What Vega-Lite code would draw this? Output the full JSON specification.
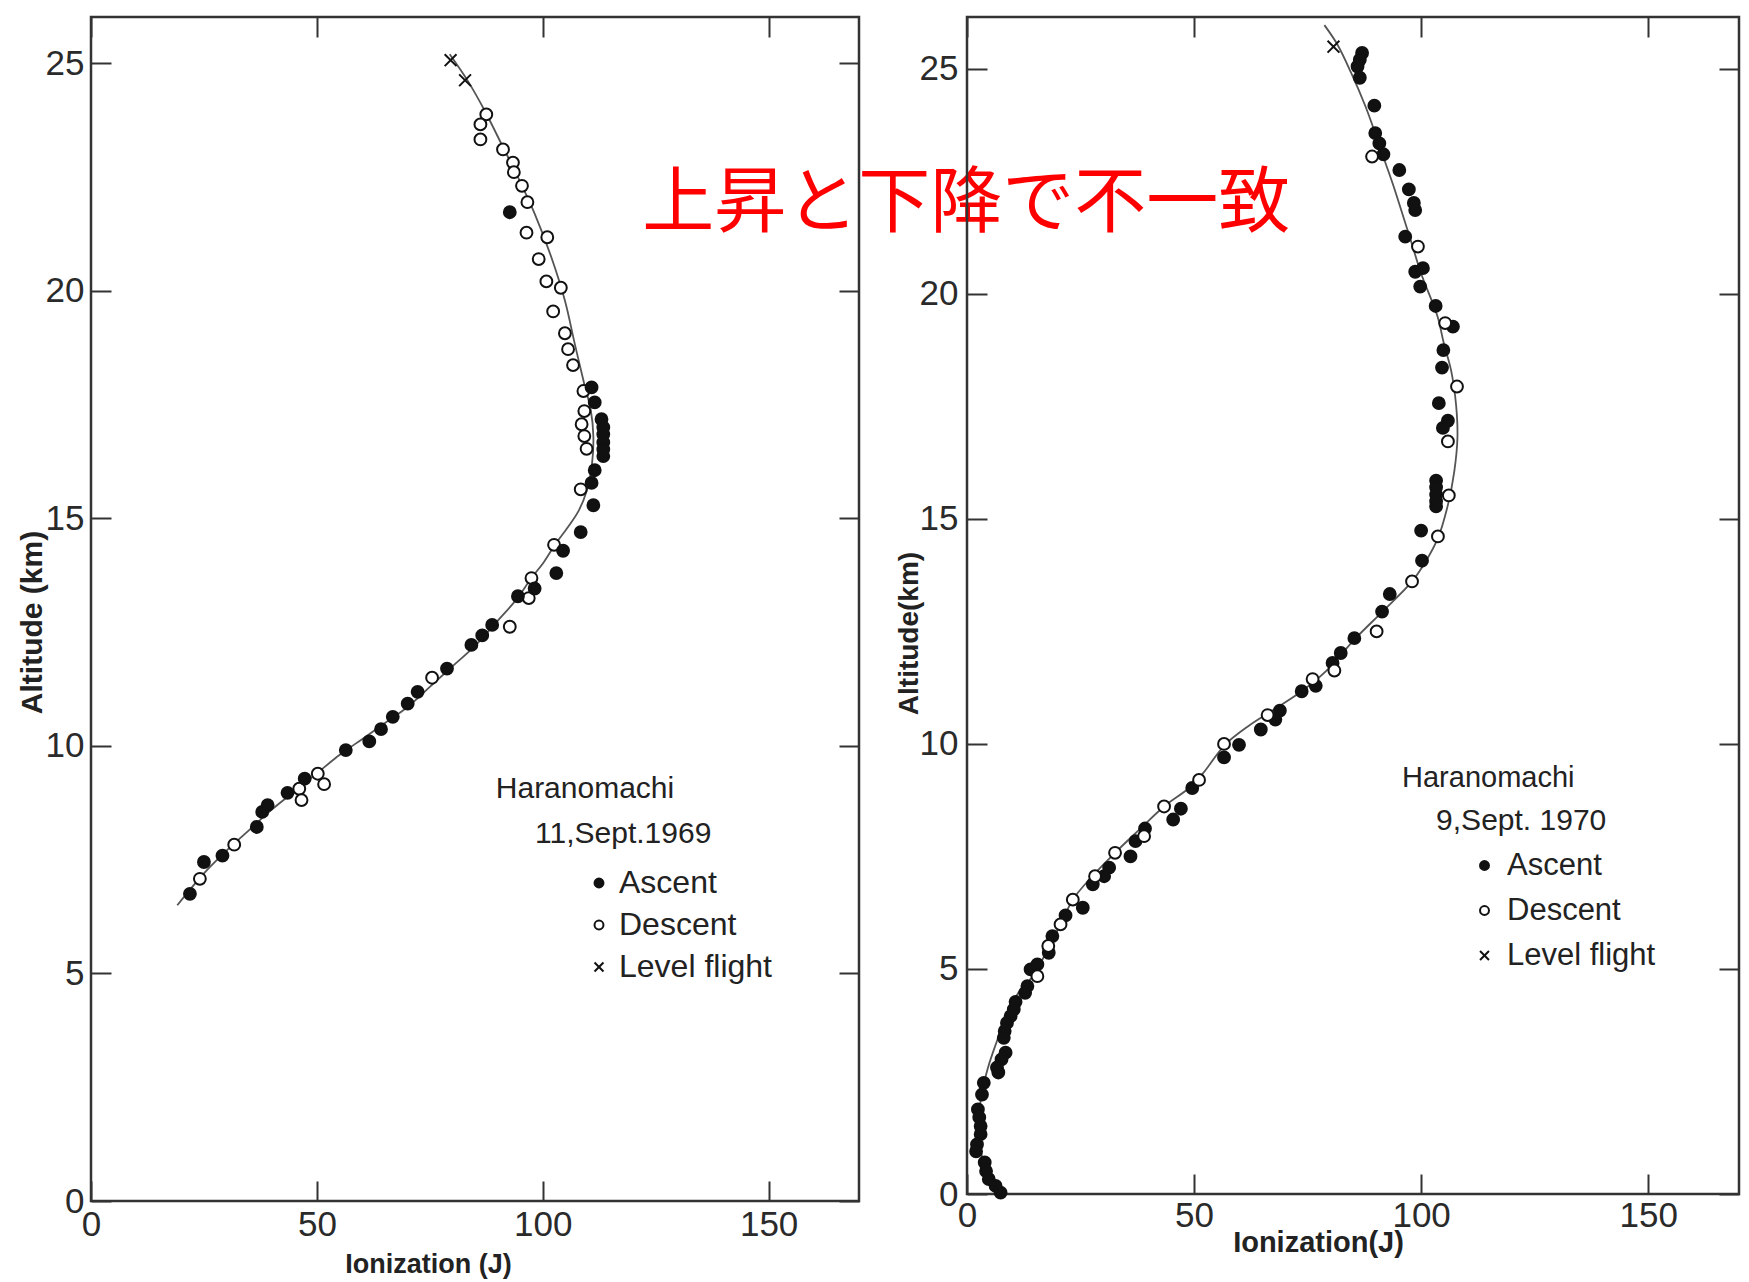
{
  "$schema": "https://vega.github.io/schema/vega-lite/v6.json",
  "background": "white",
  "padding": {"left": 15, "top": 14, "right": 5, "bottom": 2},
  "bounds": "flush",
  "spacing": 108,
  "config": {
    "font": "Liberation Sans",
    "view": {"stroke": "#333", "strokeWidth": 2.5},
    "axis": {"domain": false, "grid": false, "tickColor": "#333", "tickWidth": 2, "tickSize": -20, "labelFont": "Liberation Sans", "labelFontSize": 35, "labelColor": "#2a2a2a", "labelOverlap": false, "labelFlush": false, "titleFont": "Liberation Sans", "titleColor": "#222", "titleFontWeight": "bold"}
  },
  "datasets": {
    "p1": [
      {"type": "Level flight", "ionization": 79.6, "altitude": 25.07},
      {"type": "Level flight", "ionization": 82.8, "altitude": 24.63},
      {"type": "Descent", "ionization": 87.5, "altitude": 23.88},
      {"type": "Descent", "ionization": 86.2, "altitude": 23.66},
      {"type": "Descent", "ionization": 86.2, "altitude": 23.33},
      {"type": "Descent", "ionization": 91.2, "altitude": 23.11},
      {"type": "Descent", "ionization": 93.4, "altitude": 22.82},
      {"type": "Descent", "ionization": 93.6, "altitude": 22.61},
      {"type": "Descent", "ionization": 95.4, "altitude": 22.31},
      {"type": "Descent", "ionization": 96.6, "altitude": 21.95},
      {"type": "Descent", "ionization": 96.4, "altitude": 21.28},
      {"type": "Descent", "ionization": 101.0, "altitude": 21.18},
      {"type": "Descent", "ionization": 99.1, "altitude": 20.7},
      {"type": "Descent", "ionization": 100.8, "altitude": 20.21},
      {"type": "Descent", "ionization": 104.0, "altitude": 20.07},
      {"type": "Descent", "ionization": 102.3, "altitude": 19.55},
      {"type": "Descent", "ionization": 104.9, "altitude": 19.07},
      {"type": "Descent", "ionization": 105.6, "altitude": 18.72},
      {"type": "Descent", "ionization": 106.7, "altitude": 18.37},
      {"type": "Descent", "ionization": 109.0, "altitude": 17.8},
      {"type": "Descent", "ionization": 109.2, "altitude": 17.36},
      {"type": "Descent", "ionization": 108.6, "altitude": 17.07},
      {"type": "Descent", "ionization": 109.2, "altitude": 16.81},
      {"type": "Descent", "ionization": 109.7, "altitude": 16.53},
      {"type": "Descent", "ionization": 108.4, "altitude": 15.64},
      {"type": "Descent", "ionization": 102.5, "altitude": 14.42},
      {"type": "Descent", "ionization": 97.5, "altitude": 13.69},
      {"type": "Descent", "ionization": 96.9, "altitude": 13.25},
      {"type": "Descent", "ionization": 92.7, "altitude": 12.62},
      {"type": "Descent", "ionization": 75.5, "altitude": 11.5},
      {"type": "Descent", "ionization": 50.2, "altitude": 9.39},
      {"type": "Descent", "ionization": 51.6, "altitude": 9.16},
      {"type": "Descent", "ionization": 46.1, "altitude": 9.06},
      {"type": "Descent", "ionization": 46.6, "altitude": 8.81},
      {"type": "Descent", "ionization": 31.7, "altitude": 7.83},
      {"type": "Descent", "ionization": 24.1, "altitude": 7.08},
      {"type": "Ascent", "ionization": 92.7, "altitude": 21.73},
      {"type": "Ascent", "ionization": 110.8, "altitude": 17.88},
      {"type": "Ascent", "ionization": 111.5, "altitude": 17.55},
      {"type": "Ascent", "ionization": 113.0, "altitude": 17.18},
      {"type": "Ascent", "ionization": 113.4, "altitude": 17.0},
      {"type": "Ascent", "ionization": 113.4, "altitude": 16.85},
      {"type": "Ascent", "ionization": 113.4, "altitude": 16.67},
      {"type": "Ascent", "ionization": 113.4, "altitude": 16.52},
      {"type": "Ascent", "ionization": 113.4, "altitude": 16.37},
      {"type": "Ascent", "ionization": 111.5, "altitude": 16.06},
      {"type": "Ascent", "ionization": 110.8, "altitude": 15.78},
      {"type": "Ascent", "ionization": 111.2, "altitude": 15.29},
      {"type": "Ascent", "ionization": 108.4, "altitude": 14.7},
      {"type": "Ascent", "ionization": 104.5, "altitude": 14.29},
      {"type": "Ascent", "ionization": 103.0, "altitude": 13.8},
      {"type": "Ascent", "ionization": 98.2, "altitude": 13.46},
      {"type": "Ascent", "ionization": 94.5, "altitude": 13.29},
      {"type": "Ascent", "ionization": 88.8, "altitude": 12.66},
      {"type": "Ascent", "ionization": 86.6, "altitude": 12.43},
      {"type": "Ascent", "ionization": 84.2, "altitude": 12.22},
      {"type": "Ascent", "ionization": 78.8, "altitude": 11.7},
      {"type": "Ascent", "ionization": 72.3, "altitude": 11.19},
      {"type": "Ascent", "ionization": 70.1, "altitude": 10.93},
      {"type": "Ascent", "ionization": 66.8, "altitude": 10.64},
      {"type": "Ascent", "ionization": 64.2, "altitude": 10.37},
      {"type": "Ascent", "ionization": 61.6, "altitude": 10.1},
      {"type": "Ascent", "ionization": 56.4, "altitude": 9.91},
      {"type": "Ascent", "ionization": 47.3, "altitude": 9.28},
      {"type": "Ascent", "ionization": 43.5, "altitude": 8.97},
      {"type": "Ascent", "ionization": 39.1, "altitude": 8.7},
      {"type": "Ascent", "ionization": 37.9, "altitude": 8.55},
      {"type": "Ascent", "ionization": 36.7, "altitude": 8.22},
      {"type": "Ascent", "ionization": 29.1, "altitude": 7.59},
      {"type": "Ascent", "ionization": 25.0, "altitude": 7.45},
      {"type": "Ascent", "ionization": 21.9, "altitude": 6.75}
    ],
    "c1": [
      {"ionization": 19.1, "altitude": 6.5}, {"ionization": 25, "altitude": 7.2}, {"ionization": 30, "altitude": 7.7},
      {"ionization": 35, "altitude": 8.15}, {"ionization": 40, "altitude": 8.6}, {"ionization": 45, "altitude": 9.0},
      {"ionization": 50, "altitude": 9.4}, {"ionization": 55, "altitude": 9.8}, {"ionization": 60, "altitude": 10.15},
      {"ionization": 65, "altitude": 10.5}, {"ionization": 70, "altitude": 10.85}, {"ionization": 75, "altitude": 11.3},
      {"ionization": 80, "altitude": 11.75}, {"ionization": 85, "altitude": 12.2}, {"ionization": 90, "altitude": 12.75},
      {"ionization": 94, "altitude": 13.2}, {"ionization": 97.5, "altitude": 13.69}, {"ionization": 100.3, "altitude": 14.05},
      {"ionization": 102.7, "altitude": 14.42}, {"ionization": 105.5, "altitude": 14.8}, {"ionization": 107.9, "altitude": 15.16},
      {"ionization": 109.7, "altitude": 15.6}, {"ionization": 110.9, "altitude": 16.2}, {"ionization": 111.2, "altitude": 16.8},
      {"ionization": 110.6, "altitude": 17.4}, {"ionization": 109.2, "altitude": 17.95}, {"ionization": 107.1, "altitude": 18.83},
      {"ionization": 104.9, "altitude": 19.79}, {"ionization": 101.9, "altitude": 20.74}, {"ionization": 98.2, "altitude": 21.7},
      {"ionization": 94.5, "altitude": 22.5}, {"ionization": 90.8, "altitude": 23.24}, {"ionization": 87.1, "altitude": 23.97},
      {"ionization": 83.5, "altitude": 24.6}, {"ionization": 79.4, "altitude": 25.2}
    ],
    "p2": [
      {"type": "Level flight", "ionization": 80.7, "altitude": 25.49},
      {"type": "Ascent", "ionization": 87.0, "altitude": 25.35},
      {"type": "Ascent", "ionization": 86.5, "altitude": 25.2},
      {"type": "Ascent", "ionization": 86.0, "altitude": 25.05},
      {"type": "Ascent", "ionization": 86.5, "altitude": 24.8},
      {"type": "Ascent", "ionization": 89.7, "altitude": 24.18},
      {"type": "Ascent", "ionization": 89.9, "altitude": 23.57},
      {"type": "Ascent", "ionization": 90.8, "altitude": 23.34},
      {"type": "Ascent", "ionization": 91.7, "altitude": 23.1},
      {"type": "Ascent", "ionization": 95.2, "altitude": 22.75},
      {"type": "Ascent", "ionization": 97.3, "altitude": 22.32},
      {"type": "Ascent", "ionization": 98.4, "altitude": 22.02},
      {"type": "Ascent", "ionization": 98.7, "altitude": 21.86},
      {"type": "Ascent", "ionization": 96.5, "altitude": 21.27},
      {"type": "Ascent", "ionization": 98.7, "altitude": 20.49},
      {"type": "Ascent", "ionization": 100.4, "altitude": 20.57},
      {"type": "Ascent", "ionization": 99.8, "altitude": 20.16},
      {"type": "Ascent", "ionization": 103.2, "altitude": 19.73},
      {"type": "Ascent", "ionization": 107.0, "altitude": 19.27},
      {"type": "Ascent", "ionization": 104.9, "altitude": 18.75},
      {"type": "Ascent", "ionization": 104.6, "altitude": 18.36},
      {"type": "Ascent", "ionization": 103.9, "altitude": 17.57},
      {"type": "Ascent", "ionization": 105.9, "altitude": 17.18},
      {"type": "Ascent", "ionization": 104.8, "altitude": 17.02},
      {"type": "Ascent", "ionization": 103.3, "altitude": 15.85},
      {"type": "Ascent", "ionization": 103.3, "altitude": 15.7},
      {"type": "Ascent", "ionization": 103.3, "altitude": 15.54},
      {"type": "Ascent", "ionization": 103.3, "altitude": 15.39},
      {"type": "Ascent", "ionization": 103.3, "altitude": 15.28},
      {"type": "Ascent", "ionization": 100.0, "altitude": 14.74},
      {"type": "Ascent", "ionization": 100.2, "altitude": 14.07},
      {"type": "Ascent", "ionization": 93.1, "altitude": 13.33},
      {"type": "Ascent", "ionization": 91.4, "altitude": 12.94},
      {"type": "Ascent", "ionization": 85.3, "altitude": 12.35},
      {"type": "Ascent", "ionization": 82.3, "altitude": 12.02},
      {"type": "Ascent", "ionization": 80.5, "altitude": 11.8},
      {"type": "Ascent", "ionization": 76.8, "altitude": 11.29},
      {"type": "Ascent", "ionization": 73.7, "altitude": 11.17},
      {"type": "Ascent", "ionization": 68.9, "altitude": 10.74},
      {"type": "Ascent", "ionization": 67.9, "altitude": 10.54},
      {"type": "Ascent", "ionization": 64.7, "altitude": 10.32},
      {"type": "Ascent", "ionization": 59.9, "altitude": 9.98},
      {"type": "Ascent", "ionization": 56.6, "altitude": 9.7},
      {"type": "Ascent", "ionization": 49.6, "altitude": 9.02},
      {"type": "Ascent", "ionization": 47.1, "altitude": 8.56},
      {"type": "Ascent", "ionization": 45.4, "altitude": 8.32},
      {"type": "Ascent", "ionization": 39.2, "altitude": 8.12},
      {"type": "Ascent", "ionization": 37.1, "altitude": 7.84},
      {"type": "Ascent", "ionization": 36.0, "altitude": 7.5},
      {"type": "Ascent", "ionization": 31.3, "altitude": 7.25},
      {"type": "Ascent", "ionization": 30.2, "altitude": 7.06},
      {"type": "Ascent", "ionization": 27.7, "altitude": 6.88},
      {"type": "Ascent", "ionization": 25.5, "altitude": 6.36},
      {"type": "Ascent", "ionization": 21.7, "altitude": 6.19},
      {"type": "Ascent", "ionization": 18.8, "altitude": 5.73},
      {"type": "Ascent", "ionization": 18.0, "altitude": 5.36},
      {"type": "Ascent", "ionization": 15.5, "altitude": 5.1},
      {"type": "Ascent", "ionization": 14.0, "altitude": 4.99},
      {"type": "Ascent", "ionization": 13.3, "altitude": 4.62},
      {"type": "Ascent", "ionization": 12.8, "altitude": 4.47},
      {"type": "Ascent", "ionization": 10.7, "altitude": 4.27},
      {"type": "Ascent", "ionization": 10.3, "altitude": 4.1},
      {"type": "Ascent", "ionization": 9.6, "altitude": 3.95},
      {"type": "Ascent", "ionization": 8.8, "altitude": 3.8},
      {"type": "Ascent", "ionization": 8.3, "altitude": 3.62},
      {"type": "Ascent", "ionization": 8.1, "altitude": 3.47},
      {"type": "Ascent", "ionization": 8.5, "altitude": 3.14},
      {"type": "Ascent", "ionization": 7.6, "altitude": 2.99},
      {"type": "Ascent", "ionization": 6.6, "altitude": 2.81},
      {"type": "Ascent", "ionization": 6.9, "altitude": 2.7},
      {"type": "Ascent", "ionization": 3.7, "altitude": 2.47},
      {"type": "Ascent", "ionization": 3.3, "altitude": 2.21},
      {"type": "Ascent", "ionization": 2.4, "altitude": 1.88},
      {"type": "Ascent", "ionization": 2.7, "altitude": 1.7},
      {"type": "Ascent", "ionization": 3.0, "altitude": 1.51},
      {"type": "Ascent", "ionization": 3.0, "altitude": 1.33},
      {"type": "Ascent", "ionization": 2.2, "altitude": 1.1},
      {"type": "Ascent", "ionization": 2.0, "altitude": 0.95},
      {"type": "Ascent", "ionization": 3.9, "altitude": 0.7},
      {"type": "Ascent", "ionization": 4.2, "altitude": 0.51},
      {"type": "Ascent", "ionization": 4.8, "altitude": 0.33},
      {"type": "Ascent", "ionization": 6.3, "altitude": 0.18},
      {"type": "Ascent", "ionization": 7.4, "altitude": 0.03},
      {"type": "Descent", "ionization": 89.2, "altitude": 23.05},
      {"type": "Descent", "ionization": 99.3, "altitude": 21.05},
      {"type": "Descent", "ionization": 105.3, "altitude": 19.35},
      {"type": "Descent", "ionization": 107.9, "altitude": 17.94},
      {"type": "Descent", "ionization": 105.9, "altitude": 16.72},
      {"type": "Descent", "ionization": 106.1, "altitude": 15.52},
      {"type": "Descent", "ionization": 103.7, "altitude": 14.61},
      {"type": "Descent", "ionization": 98.0, "altitude": 13.61},
      {"type": "Descent", "ionization": 90.2, "altitude": 12.5},
      {"type": "Descent", "ionization": 80.9, "altitude": 11.63},
      {"type": "Descent", "ionization": 76.1, "altitude": 11.44},
      {"type": "Descent", "ionization": 66.2, "altitude": 10.64},
      {"type": "Descent", "ionization": 56.6, "altitude": 10.0},
      {"type": "Descent", "ionization": 51.1, "altitude": 9.2},
      {"type": "Descent", "ionization": 43.4, "altitude": 8.61},
      {"type": "Descent", "ionization": 39.0, "altitude": 7.95},
      {"type": "Descent", "ionization": 32.6, "altitude": 7.58},
      {"type": "Descent", "ionization": 28.2, "altitude": 7.06},
      {"type": "Descent", "ionization": 23.3, "altitude": 6.54},
      {"type": "Descent", "ionization": 20.6, "altitude": 5.99},
      {"type": "Descent", "ionization": 17.9, "altitude": 5.51},
      {"type": "Descent", "ionization": 15.5, "altitude": 4.84}
    ],
    "c2": [
      {"ionization": 7, "altitude": 0}, {"ionization": 4.5, "altitude": 0.4}, {"ionization": 3.0, "altitude": 1.0},
      {"ionization": 2.6, "altitude": 1.6}, {"ionization": 3.2, "altitude": 2.2}, {"ionization": 4.6, "altitude": 2.8},
      {"ionization": 6.6, "altitude": 3.4}, {"ionization": 8.8, "altitude": 4.0}, {"ionization": 11.5, "altitude": 4.5},
      {"ionization": 15.0, "altitude": 4.9}, {"ionization": 18.0, "altitude": 5.5}, {"ionization": 20.6, "altitude": 5.99},
      {"ionization": 23.3, "altitude": 6.54}, {"ionization": 27.5, "altitude": 7.05}, {"ionization": 32.6, "altitude": 7.58},
      {"ionization": 38, "altitude": 8.1}, {"ionization": 43.4, "altitude": 8.61}, {"ionization": 48.9, "altitude": 9.02},
      {"ionization": 52, "altitude": 9.35}, {"ionization": 56.8, "altitude": 9.98}, {"ionization": 62, "altitude": 10.4},
      {"ionization": 66.9, "altitude": 10.72}, {"ionization": 73.7, "altitude": 11.17}, {"ionization": 79.0, "altitude": 11.61},
      {"ionization": 85.6, "altitude": 12.35}, {"ionization": 91.5, "altitude": 12.94}, {"ionization": 98.0, "altitude": 13.61},
      {"ionization": 101.1, "altitude": 14.07}, {"ionization": 103.7, "altitude": 14.57}, {"ionization": 105.9, "altitude": 15.31},
      {"ionization": 107.3, "altitude": 16.05}, {"ionization": 108.0, "altitude": 16.8}, {"ionization": 107.7, "altitude": 17.53},
      {"ionization": 106.6, "altitude": 18.3}, {"ionization": 105.0, "altitude": 18.9}, {"ionization": 103.6, "altitude": 19.5},
      {"ionization": 100.0, "altitude": 20.45}, {"ionization": 97.6, "altitude": 21.23}, {"ionization": 95.8, "altitude": 21.8},
      {"ionization": 93.9, "altitude": 22.4}, {"ionization": 92.0, "altitude": 22.95}, {"ionization": 90.3, "altitude": 23.45},
      {"ionization": 87.8, "altitude": 24.15}, {"ionization": 84.5, "altitude": 24.93}, {"ionization": 81.5, "altitude": 25.55},
      {"ionization": 78.7, "altitude": 25.97}
    ]
  },
  "resolve": {"scale": {"shape": "independent", "fill": "independent", "stroke": "independent"}, "legend": {"shape": "independent", "fill": "independent", "stroke": "independent"}},
  "hconcat": [
    {
      "width": 768,
      "height": 1184,
      "resolve": {"axis": {"x": "independent", "y": "independent"}},
      "layer": [
        {
          "data": {"name": "c1"},
          "mark": {"type": "line", "interpolate": "catmull-rom", "stroke": "#555", "strokeWidth": 1.8},
          "encoding": {
            "x": {"field": "ionization", "type": "quantitative", "scale": {"domain": [0, 170], "nice": false, "zero": false},
                  "axis": {"orient": "top", "values": [0, 50, 100, 150], "labels": false, "title": null}},
            "y": {"field": "altitude", "type": "quantitative", "scale": {"domain": [0, 26.02], "nice": false, "zero": false},
                  "axis": {"orient": "right", "values": [0, 5, 10, 15, 20, 25], "labels": false, "title": null}},
            "order": {"field": "altitude", "type": "quantitative"}
          }
        },
        {
          "data": {"name": "p1"},
          "mark": {"type": "point", "opacity": 1, "strokeWidth": 2, "size": 140},
          "encoding": {
            "x": {"field": "ionization", "type": "quantitative", "scale": {"domain": [0, 170], "nice": false, "zero": false},
                  "axis": {"orient": "bottom", "values": [0, 50, 100, 150], "labelPadding": 26, "title": "Ionization (J)", "titleFontSize": 27, "titleX": 337, "titleY": 63, "titleAlign": "center", "titleBaseline": "middle"}},
            "y": {"field": "altitude", "type": "quantitative", "scale": {"domain": [0, 26.02], "nice": false, "zero": false},
                  "axis": {"orient": "left", "values": [0, 5, 10, 15, 20, 25], "labelPadding": 27, "title": "Altitude (km)", "titleFontSize": 30, "titleX": -59, "titleY": 605, "titleAngle": -90, "titleAlign": "center", "titleBaseline": "middle"}},
            "shape": {"field": "type", "type": "nominal",
                      "scale": {"domain": ["Ascent", "Descent", "Level flight"], "range": ["circle", "circle", "M-1,-1L1,1M-1,1L1,-1"]},
                      "legend": {"orient": "none", "legendX": 492, "legendY": 850, "title": null, "padding": 0, "labelFont": "Liberation Sans", "labelFontSize": 32, "labelColor": "#222", "rowPadding": 10, "labelOffset": 4, "symbolSize": 80, "symbolStrokeWidth": 2, "symbolOpacity": 1}},
            "fill": {"field": "type", "type": "nominal",
                     "scale": {"domain": ["Ascent", "Descent", "Level flight"], "range": ["#111111", "#ffffff", "#111111"]},
                     "legend": {"orient": "none", "legendX": 492, "legendY": 850, "title": null, "padding": 0, "labelFont": "Liberation Sans", "labelFontSize": 32, "labelColor": "#222", "rowPadding": 10, "labelOffset": 4, "symbolSize": 80, "symbolStrokeWidth": 2, "symbolOpacity": 1}},
            "stroke": {"field": "type", "type": "nominal",
                     "scale": {"domain": ["Ascent", "Descent", "Level flight"], "range": ["#111111", "#111111", "#111111"]},
                     "legend": {"orient": "none", "legendX": 492, "legendY": 850, "title": null, "padding": 0, "labelFont": "Liberation Sans", "labelFontSize": 32, "labelColor": "#222", "rowPadding": 10, "labelOffset": 4, "symbolSize": 80, "symbolStrokeWidth": 2, "symbolOpacity": 1}}
          }
        },
        {
          "data": {"values": [{"label": "Haranomachi"}]},
          "mark": {"type": "text", "align": "left", "baseline": "middle", "font": "Liberation Sans", "fontSize": 30, "fill": "#222"},
          "encoding": {
            "x": {"datum": 89.6, "type": "quantitative", "scale": {"domain": [0, 170], "nice": false, "zero": false}, "axis": null},
            "y": {"datum": 9.05, "type": "quantitative", "scale": {"domain": [0, 26.02], "nice": false, "zero": false}, "axis": null},
            "text": {"field": "label"}
          }
        },
        {
          "data": {"values": [{"label": "11,Sept.1969"}]},
          "mark": {"type": "text", "align": "left", "baseline": "middle", "font": "Liberation Sans", "fontSize": 30, "fill": "#222"},
          "encoding": {
            "x": {"datum": 98.3, "type": "quantitative", "scale": {"domain": [0, 170], "nice": false, "zero": false}, "axis": null},
            "y": {"datum": 8.07, "type": "quantitative", "scale": {"domain": [0, 26.02], "nice": false, "zero": false}, "axis": null},
            "text": {"field": "label"}
          }
        },
        {
          "data": {"values": [{"label": "上昇と下降で不一致"}]},
          "mark": {"type": "text", "align": "left", "baseline": "middle", "font": "Noto Sans CJK JP", "fontSize": 72, "fill": "#ff0000"},
          "encoding": {
            "x": {"datum": 122.0, "type": "quantitative", "scale": {"domain": [0, 170], "nice": false, "zero": false}, "axis": null},
            "y": {"datum": 21.9, "type": "quantitative", "scale": {"domain": [0, 26.02], "nice": false, "zero": false}, "axis": null},
            "text": {"field": "label"}
          }
        }
      ]
    },
    {
      "width": 772,
      "height": 1177,
      "resolve": {"axis": {"x": "independent", "y": "independent"}},
      "layer": [
        {
          "data": {"name": "c2"},
          "mark": {"type": "line", "interpolate": "catmull-rom", "stroke": "#555", "strokeWidth": 1.8},
          "encoding": {
            "x": {"field": "ionization", "type": "quantitative", "scale": {"domain": [0, 170], "nice": false, "zero": false},
                  "axis": {"orient": "top", "values": [0, 50, 100, 150], "labels": false, "title": null}},
            "y": {"field": "altitude", "type": "quantitative", "scale": {"domain": [0, 26.15], "nice": false, "zero": false},
                  "axis": {"orient": "right", "values": [0, 5, 10, 15, 20, 25], "labels": false, "title": null}},
            "order": {"field": "altitude", "type": "quantitative"}
          }
        },
        {
          "data": {"name": "p2"},
          "mark": {"type": "point", "opacity": 1, "strokeWidth": 2, "size": 140},
          "encoding": {
            "x": {"field": "ionization", "type": "quantitative", "scale": {"domain": [0, 170], "nice": false, "zero": false},
                  "axis": {"orient": "bottom", "values": [0, 50, 100, 150], "labelPadding": 24, "title": "Ionization(J)", "titleFontSize": 29, "titleX": 351, "titleY": 48, "titleAlign": "center", "titleBaseline": "middle"}},
            "y": {"field": "altitude", "type": "quantitative", "scale": {"domain": [0, 26.15], "nice": false, "zero": false},
                  "axis": {"orient": "left", "values": [0, 5, 10, 15, 20, 25], "labelPadding": 29, "title": "Altitude(km)", "titleFontSize": 28, "titleX": -58, "titleY": 616, "titleAngle": -90, "titleAlign": "center", "titleBaseline": "middle"}},
            "shape": {"field": "type", "type": "nominal",
                      "scale": {"domain": ["Ascent", "Descent", "Level flight"], "range": ["circle", "circle", "M-1,-1L1,1M-1,1L1,-1"]},
                      "legend": {"orient": "none", "legendX": 502, "legendY": 833, "title": null, "padding": 0, "labelFont": "Liberation Sans", "labelFontSize": 31, "labelColor": "#222", "rowPadding": 13, "labelOffset": 7, "symbolSize": 80, "symbolStrokeWidth": 2, "symbolOpacity": 1}},
            "fill": {"field": "type", "type": "nominal",
                     "scale": {"domain": ["Ascent", "Descent", "Level flight"], "range": ["#111111", "#ffffff", "#111111"]},
                     "legend": {"orient": "none", "legendX": 502, "legendY": 833, "title": null, "padding": 0, "labelFont": "Liberation Sans", "labelFontSize": 31, "labelColor": "#222", "rowPadding": 13, "labelOffset": 7, "symbolSize": 80, "symbolStrokeWidth": 2, "symbolOpacity": 1}},
            "stroke": {"field": "type", "type": "nominal",
                     "scale": {"domain": ["Ascent", "Descent", "Level flight"], "range": ["#111111", "#111111", "#111111"]},
                     "legend": {"orient": "none", "legendX": 502, "legendY": 833, "title": null, "padding": 0, "labelFont": "Liberation Sans", "labelFontSize": 31, "labelColor": "#222", "rowPadding": 13, "labelOffset": 7, "symbolSize": 80, "symbolStrokeWidth": 2, "symbolOpacity": 1}}
          }
        },
        {
          "data": {"values": [{"label": "Haranomachi"}]},
          "mark": {"type": "text", "align": "left", "baseline": "middle", "font": "Liberation Sans", "fontSize": 29, "fill": "#222"},
          "encoding": {
            "x": {"datum": 95.8, "type": "quantitative", "scale": {"domain": [0, 170], "nice": false, "zero": false}, "axis": null},
            "y": {"datum": 9.24, "type": "quantitative", "scale": {"domain": [0, 26.15], "nice": false, "zero": false}, "axis": null},
            "text": {"field": "label"}
          }
        },
        {
          "data": {"values": [{"label": "9,Sept. 1970"}]},
          "mark": {"type": "text", "align": "left", "baseline": "middle", "font": "Liberation Sans", "fontSize": 30, "fill": "#222"},
          "encoding": {
            "x": {"datum": 103.3, "type": "quantitative", "scale": {"domain": [0, 170], "nice": false, "zero": false}, "axis": null},
            "y": {"datum": 8.29, "type": "quantitative", "scale": {"domain": [0, 26.15], "nice": false, "zero": false}, "axis": null},
            "text": {"field": "label"}
          }
        }
      ]
    }
  ]
}
